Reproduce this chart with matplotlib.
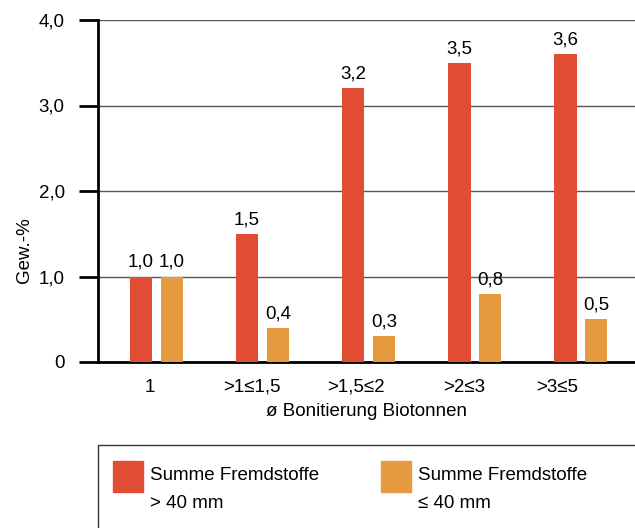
import matplotlib.pyplot as plt
import numpy as np
from matplotlib.patches import Rectangle

categories = ['1', '>1≤1,5', '>1,5≤2', '>2≤3', '>3≤5']
gross = [1.0, 1.5, 3.2, 3.5, 3.6]   # Summe Fremdstoffe > 40 mm
fine = [1.0, 0.4, 0.3, 0.8, 0.5]    # Summe Fremdstoffe <= 40 mm
yticks = [0, 1, 2, 3, 4]
yticklabels = ['0', '1,0', '2,0', '3,0', '4,0']

red = '#E14C35'
orange = '#E59A40'
fs = 13.5

plt.rcParams['font.family'] = ['Liberation Sans', 'DejaVu Sans']

fig = plt.figure(figsize=(6.35, 5.28), dpi=100)
ax = fig.add_axes([98 / 635, 1 - 362 / 528, 1 - 98 / 635, 342 / 528])

x = np.arange(len(categories))
w = 0.21
off = 0.145
b1 = ax.bar(x - off, gross, w, color=red, zorder=3)
b2 = ax.bar(x + off, fine, w, color=orange, zorder=3)

for bars, vals in ((b1, gross), (b2, fine)):
    for b, v in zip(bars, vals):
        ax.annotate(f'{v:.1f}'.replace('.', ','), (b.get_x() + b.get_width() / 2, v),
                    xytext=(0, 4), textcoords='offset points',
                    ha='center', va='bottom', fontsize=fs)

ax.set_xlim(-0.55, 4.51)
ax.set_ylim(0, 4)
ax.set_yticks(yticks)
ax.set_yticklabels(yticklabels, fontsize=fs)
ax.set_xticks(x - [0.06, 0.1, 0.12, 0.1, 0.22])
ax.set_xticklabels(categories, fontsize=fs)
ax.tick_params(axis='x', length=0, pad=12)
ax.tick_params(axis='y', length=14, width=2, pad=10)
ax.yaxis.grid(True, color='#555555', linewidth=1, zorder=0)
ax.set_axisbelow(True)

for s in ['top', 'right']:
    ax.spines[s].set_visible(False)
for s in ['left', 'bottom']:
    ax.spines[s].set_linewidth(2)
    ax.spines[s].set_color('black')

ax.set_xlabel('ø Bonitierung Biotonnen', fontsize=fs, labelpad=5)
fig.text(25 / 635, 1 - 250 / 528, 'Gew.-%', rotation=90, ha='center', va='center', fontsize=fs)

# legend box
fig.patches.append(Rectangle((98 / 635, -0.05), 0.9, 1.05 - 445 / 528, transform=fig.transFigure,
                             fill=False, edgecolor='#333333', linewidth=1))
for px, col, line2 in ((113, red, '> 40 mm'), (381, orange, '≤ 40 mm')):
    fig.patches.append(Rectangle((px / 635, 1 - 492 / 528), 30 / 635, 31 / 528,
                                 transform=fig.transFigure, color=col))
    fig.text((px + 37) / 635, 1 - 476 / 528, 'Summe Fremdstoffe', fontsize=fs, va='center')
    fig.text((px + 37) / 635, 1 - 503 / 528, line2, fontsize=fs, va='center')

fig.savefig('out.png', dpi=100)
